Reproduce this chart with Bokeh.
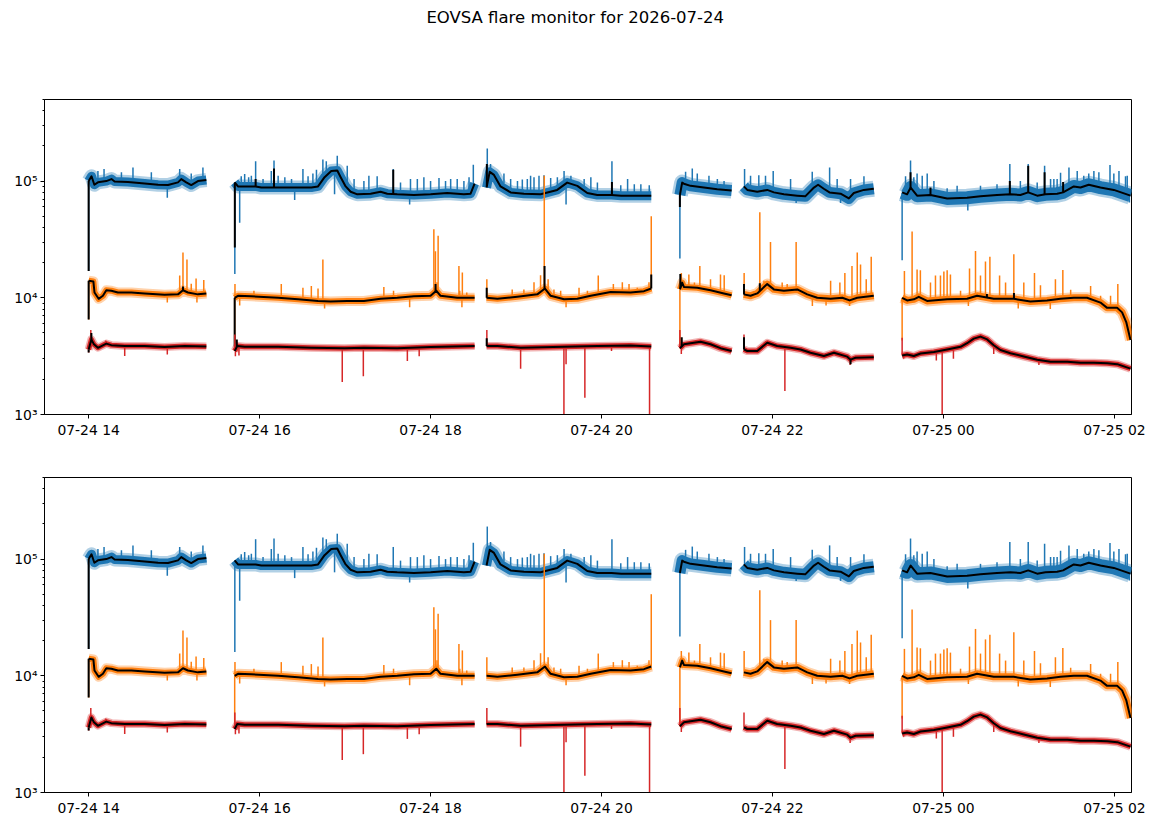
import numpy as np
import pandas as pd
from bokeh.plotting import figure
from bokeh.layouts import column
from bokeh.models import FixedTicker, CustomJSTickFormatter, Range1d, ColumnDataSource
from bokeh.core.properties import value
from bokeh.embed import file_html
from bokeh.resources import INLINE

# ---------------------------------------------------------------- data
TITLE = "EOVSA flare monitor for 2026-07-24"
T0 = "2026-07-24 14:00"          # all times below are minutes after T0

x_tick_times = ["2026-07-24 14:00", "2026-07-24 16:00", "2026-07-24 18:00",
                "2026-07-24 20:00", "2026-07-24 22:00", "2026-07-25 00:00",
                "2026-07-25 02:00"]
x_tick_labels = ["07-24 14", "07-24 16", "07-24 18", "07-24 20",
                 "07-24 22", "07-25 00", "07-25 02"]
y_tick_values = [1e3, 1e4, 1e5]
y_tick_labels = ["10\u00b3", "10\u2074", "10\u2075"]

# ---- blue channel: smoothed level per observing segment
blue_t = [
    [0, 2, 4, 6.5, 12.4, 16, 18.2, 27.6, 39.3, 48.7, 55.7, 62.7, 65, 68.5, 72, 76.7, 82.6],
    [102.5, 104.8, 109.5, 117.2, 121.2, 130.1, 144.6, 156.3, 161, 165.6, 170.3, 174.5, 176.9,
     180.4, 183.9, 188.6, 197.9, 204.9, 209.6, 216.6, 228.3, 240, 251.7, 263.4, 268.1, 270.9],
    [279.3, 281.5, 284.5, 289.1, 296.2, 305.5, 317.2, 328.9, 335.9, 343, 350, 357, 367, 373.8, 385.5, 394.9],
    [415, 416.6, 417.8, 422.5, 431.8, 441.2, 451.3],
    [459.9, 462.3, 469.3, 476.3, 481, 488, 497.4, 503, 509.1, 512, 516, 520, 527.8, 533.6, 537.1, 544.1, 551.1],
    [571, 574.5, 577, 581.5, 590.9, 602.6, 616.6, 626, 637.6, 647, 654, 659.5, 665.8, 671.6, 679.8,
     684, 691.5, 696.2, 702, 710.2, 719.6, 731.3],
]
blue_v = [
    [100000, 110000, 93000, 97500, 100000, 104000, 99000, 98000, 95500, 93000, 92500, 97500, 104000, 97500, 92500, 100000, 102000],
    [97500, 90000, 90000, 90000, 88000, 88000, 88000, 88000, 90000, 108000, 122000, 123000, 108000,
     90000, 81000, 77000, 78000, 81000, 78000, 77000, 76000, 77000, 79000, 77000, 78000, 95000],
    [88000, 120000, 113000, 90000, 80000, 78000, 77000, 84000, 97000, 91000, 79000, 76000, 76000, 75000, 75000, 75000],
    [76000, 97000, 95000, 91000, 88000, 85000, 83000],
    [90000, 84000, 81000, 84000, 80000, 77000, 75000, 74000, 88000, 93000, 86000, 80000, 78000, 71000, 79000, 84000, 86000],
    [80000, 77000, 88000, 75000, 76000, 71000, 72000, 74000, 76000, 77000, 76000, 80000, 75000, 77000, 78000,
     80000, 90000, 88000, 93000, 88000, 84000, 75000],
]
# (minute, value) of the raw spikes of the blue channel
blue_spikes = [
    (0, 17000), (6.5, 122000), (10.8, 127000), (23, 119000), (31.1, 131000), (44, 119000), (55.2, 72000),
    (63.9, 127000), (72, 116000), (80.2, 131000),
    (102.6, 16000), (106, 44000), (107.1, 110000), (109.5, 115000), (112.3, 108000), (114.2, 111000),
    (117.2, 148000), (122.4, 104000), (128.2, 122000), (130.1, 150000), (133, 111000), (137.7, 108000),
    (142.4, 104000), (144.6, 68700), (150.4, 127000), (154, 110000), (157.4, 116000), (159.9, 125000),
    (164.4, 153000), (166.8, 148000), (172.6, 77000), (174.5, 165000), (181.5, 135000), (186.3, 104000),
    (193.2, 100000), (196.7, 111000), (202.5, 110000), (213.8, 127000), (218.9, 97000), (225.3, 63000),
    (225.9, 104000), (230.7, 104000), (235.3, 108000), (240, 100000), (245.9, 106000), (250.5, 100000),
    (254.1, 104000), (258.7, 104000), (263.4, 100000), (267, 108000), (270, 138000),
    (279.8, 190000), (282.1, 140000), (291.5, 116000), (296.2, 104000), (301, 100000), (304.4, 103000),
    (307.9, 104000), (310.2, 111000), (312.6, 108000), (316.1, 111000), (319.6, 112000), (324.3, 106000),
    (329, 108000), (333.7, 122000), (335.1, 63000), (338.5, 111000), (347.8, 104000), (352.5, 108000),
    (357.1, 97000), (367.3, 148000), (373.5, 92000), (378.3, 104000), (383, 94000), (387.6, 94000), (393.5, 92000),
    (415, 21700), (419, 120000), (423.7, 128000), (427.2, 116000), (435.4, 111000), (441.3, 104000), (446, 100000),
    (460.4, 127000), (464.6, 111000), (470.4, 112000), (475.1, 111000), (480.5, 122000), (492.7, 104000),
    (496.6, 65000), (507.9, 120000), (520.1, 131000), (525.4, 104000), (527.8, 65000), (534.8, 104000), (544.2, 110000),
    (571, 21000), (573.4, 110000), (576.9, 150000), (579.2, 108000), (581.5, 116000), (585.1, 111000),
    (588.6, 116000), (593.3, 100000), (602.6, 87000), (609.6, 91000), (617.1, 56000), (626, 91000),
    (637.6, 94000), (646.6, 140000), (654, 100000), (659.5, 140000), (665.8, 97000), (671, 135000),
    (675.2, 104000), (677.5, 104000), (679.8, 104000), (682.2, 118000), (688.1, 131000), (693.9, 122000),
    (698.5, 111000), (702, 116000), (705.6, 122000), (709.1, 119000), (716.9, 137000), (719.6, 116000),
    (723.2, 122000), (727.8, 110000), (729, 111000), (730.5, 65600),
]
blue_black_top = [(0, 17000), (102.6, 27000), (117.2, 104000), (130.1, 128000), (213.8, 125000),
                  (279.5, 140000), (367.3, 98000), (415, 60000), (576.9, 119000), (590.9, 88000),
                  (646.6, 100000), (659.5, 135000), (671, 119000), (684, 98000)]
blue_black_bottom = [(0, 17000)]

# ---- orange channel
orange_t = [
    [0, 3.3, 4.1, 7, 10, 12.4, 15.9, 20.5, 30, 39.3, 53.3, 62.7, 66.2, 69.7, 76.7, 82.6],
    [102.5, 104.8, 114.2, 133, 147, 161, 169.8, 181.5, 193.2, 204.9, 216.6, 228.3, 240, 244, 247, 258.7, 270.9],
    [279.3, 286.9, 300.9, 314.9, 320.3, 324.3, 333.7, 343, 352.4, 366.4, 380.4, 389.8, 394.9],
    [415, 416.6, 417.8, 427.2, 436.5, 445.9, 451.3],
    [459.9, 464.6, 469.3, 476.3, 481, 488, 497.4, 504.4, 511.4, 520.8, 529, 534.1, 539.5, 551.1],
    [571, 574.5, 579.2, 582.7, 588.5, 602.6, 616.6, 623.6, 635.3, 649.3, 661, 672.7, 682.1, 691.5,
     700.8, 710.2, 714.9, 721.9, 725.4, 728.3, 731.3],
]
orange_v = [
    [14000, 13800, 11100, 9800, 10400, 11600, 11500, 11100, 11100, 10900, 10600, 10700, 11600, 11100, 10700, 10900],
    [10000, 10400, 10300, 10000, 9700, 9400, 9300, 9400, 9400, 9800, 10000, 10300, 10400, 11500, 10400, 10000, 10000],
    [10000, 9800, 10200, 10700, 12000, 10400, 9700, 9800, 10400, 11200, 11100, 11400, 12000],
    [11800, 13500, 12400, 12200, 11600, 10900, 10500],
    [10700, 10400, 10900, 13100, 11800, 11500, 11800, 10700, 10000, 9800, 10000, 9500, 10000, 10400],
    [10000, 9500, 9700, 10200, 9400, 9700, 9800, 10400, 9800, 9800, 9300, 9500, 9800, 10000,
     10000, 9100, 8200, 8200, 7500, 6200, 4350],
]
orange_spikes = [
    (0, 6500), (55.2, 9100), (63.9, 15500), (66.2, 24400), (69, 21300), (72, 13200), (75.4, 14600),
    (76, 9100), (80.8, 14200),
    (102.5, 4000), (102.7, 13100), (106, 8600), (116, 11500), (135.2, 13100), (150.4, 12200), (156.3, 12600),
    (161, 12000), (164.4, 21300), (165.6, 8100), (207.2, 12400), (214, 11500), (225.3, 8300), (242.3, 38700),
    (243.4, 25000), (244.5, 13600), (245.3, 34000), (259.9, 18700), (260.5, 11500), (262, 8300),
    (262.3, 16500), (265.4, 11100),
    (279.5, 14400), (297.3, 11800), (305.5, 11800), (312.6, 13600), (317.2, 15600), (319.8, 111000),
    (322.5, 14400), (326.6, 11800), (331.3, 11500), (335.1, 8300), (344.2, 12200), (350.1, 11500),
    (357.7, 15500), (368.3, 13100), (374.6, 13600), (379.3, 13100), (385.1, 12200), (393.3, 13600), (394.9, 50000),
    (415, 3700), (416, 16300), (421.3, 15800), (425.2, 13500), (429, 18700), (436.5, 14400), (443.5, 15800),
    (446.1, 15600),
    (460.1, 16300), (471.1, 54000), (474, 14000), (478.6, 30000), (486.8, 13500), (490.3, 13100),
    (496.6, 30000), (508, 8500), (517.6, 8600), (520.8, 14000), (527.3, 13500), (530.8, 16300), (534.1, 8500),
    (535.8, 18700), (539.5, 24400), (541.8, 19300), (545.8, 14400), (549.3, 22500),
    (571, 4300), (572.6, 17000), (578, 37000), (581.5, 17500), (583.8, 17200), (590.9, 13500), (594.4, 15500),
    (597.9, 15500), (600.3, 16800), (602.6, 17200), (604.9, 15800), (612, 11500), (617.5, 8500),
    (618.3, 17800), (622.5, 25200), (626, 15500), (629.5, 20500), (632.6, 22500), (639.4, 15500),
    (643.6, 13500), (649.4, 23600), (652.5, 8100), (656.4, 13500), (663.9, 16300), (668.1, 12800),
    (675, 8000), (678.6, 14400), (683.8, 17300), (689.3, 11700), (703.3, 12600), (710.3, 10400),
    (717.3, 10400), (722.4, 13100),
]
orange_black_top = [(0, 6500), (66.2, 12500), (102.5, 3800), (243.5, 13100), (279.4, 12200), (320, 18700),
                    (394.9, 15800), (415.3, 16000), (460, 13100), (471.1, 13300), (630.5, 10800), (649.5, 11000)]
orange_black_bottom = [(0, 6500)]

# ---- red channel
red_t = [
    [0, 1.9, 3.7, 6.5, 12.4, 15.9, 25.3, 39.3, 53.3, 67.4, 82.6],
    [102.5, 104.3, 109.5, 133, 156.3, 179.7, 193.2, 216.6, 240, 270.9],
    [279.3, 281, 286.9, 303.3, 333.7, 357.1, 380.4, 394.9],
    [415, 417.8, 429.5, 436.5, 443.5, 451.3],
    [459.9, 462.3, 469.3, 476.3, 483.3, 492.7, 499.7, 506.7, 516.1, 523.1, 532.5, 534.8, 538.3, 551.1],
    [571, 574.5, 579.2, 583.9, 593.3, 602.6, 612, 616.6, 621.3, 626, 630.7, 635.3, 640, 647, 656.4,
     665.8, 675.2, 686.9, 696.2, 705.6, 715, 722, 731.3],
]
red_v = [
    [3600, 4400, 3990, 3730, 4050, 3930, 3860, 3860, 3780, 3860, 3820],
    [3500, 3860, 3800, 3800, 3730, 3700, 3730, 3700, 3780, 3860],
    [3860, 3860, 3860, 3730, 3800, 3860, 3900, 3820],
    [3700, 3990, 4200, 4000, 3700, 3500],
    [3610, 3500, 3500, 4120, 3860, 3730, 3610, 3380, 3170, 3380, 3130, 2950, 3060, 3100],
    [3200, 3270, 3170, 3330, 3430, 3610, 3800, 4080, 4470, 4650, 4400, 3920, 3570, 3350, 3140,
     2950, 2830, 2830, 2780, 2780, 2750, 2700, 2470],
]
red_spikes = [
    (0, 3400), (1.5, 5300), (12, 4300), (25.3, 3170), (55.2, 3270),
    (102.6, 4850), (103, 3150), (105.5, 3200), (178, 1900), (192.8, 2130), (223.7, 2880), (232, 3150),
    (279.5, 5300), (303.2, 2470), (333.6, 500), (335.1, 2700), (348.3, 1390), (367, 3500), (393.7, 500),
    (415, 5300), (416, 3300),
    (460, 4850), (488.7, 1590), (534.5, 2650),
    (571, 4550), (572, 3000), (595, 2900), (599.1, 500), (607, 3000), (635.3, 3300), (667, 2650),
]
red_black_top = [(0, 3400), (1.9, 5000), (104, 4400), (279.4, 4500), (416.3, 4600), (460, 4600), (534.8, 2700)]
red_black_bottom = [(0, 3400)]

# ---------------------------------------------------------------- drawing
t0_ms = pd.Timestamp(T0).value / 1e6
x_tick_ms = [pd.Timestamp(s).value / 1e6 for s in x_tick_times]
FONT = "DejaVu Sans"
PAGE_W = 1148


def to_ms(minutes):
    return t0_ms + np.asarray(minutes, dtype=float) * 60000.0


SERIES = [
    dict(color="#1f77b4", t=blue_t, v=blue_v, spikes=blue_spikes, fringe=5,
         top=blue_black_top, bottom=blue_black_bottom, widths=[9, 9, 9, 11, 11, 13]),
    dict(color="#ff7f0e", t=orange_t, v=orange_v, spikes=orange_spikes, fringe=4,
         top=orange_black_top, bottom=orange_black_bottom, widths=[6, 6, 6, 6, 7, 7]),
    dict(color="#d62728", t=red_t, v=red_v, spikes=red_spikes, fringe=3,
         top=red_black_top, bottom=red_black_bottom, widths=[5, 5, 5, 5, 5, 5]),
]


def spike_segments(p, s, pairs, color, width):
    all_t = np.concatenate([np.asarray(seg, float) for seg in s["t"]])
    all_lv = np.log10(np.concatenate([np.asarray(seg, float) for seg in s["v"]]))
    st = np.array([a for a, _ in pairs], float)
    sv = np.array([b for _, b in pairs], float)
    foot = 10 ** np.interp(st, all_t, all_lv)   # foot of each spike on the level line
    p.segment(x0=to_ms(st), y0=foot, x1=to_ms(st), y1=sv, line_color=color, line_width=width)


def make_panel(which, height, b_top, b_bottom):
    p = figure(width=PAGE_W, height=height, x_axis_type="datetime", y_axis_type="log",
               x_range=Range1d(float(to_ms(-31)), float(to_ms(732))), y_range=Range1d(1e3, 5e5),
               output_backend="svg", toolbar_location=None, title=None,
               min_border_left=44, min_border_right=17, min_border_top=b_top, min_border_bottom=b_bottom)
    p.xgrid.visible = False
    p.ygrid.visible = False
    p.outline_line_color = "black"
    p.outline_line_width = 1
    p.outline_line_alpha = 1
    p.background_fill_color = "white"
    p.border_fill_color = "white"

    for ax in (p.xaxis[0], p.yaxis[0]):
        ax.axis_line_color = "black"
        ax.major_tick_line_color = "black"
        ax.minor_tick_line_color = "black"
        ax.major_tick_out = 4
        ax.major_tick_in = 0
        ax.minor_tick_out = 2
        ax.minor_tick_in = 0
        ax.major_label_text_font = FONT
        ax.major_label_text_font_size = "13.9px"
        ax.major_label_text_color = "black"
        ax.major_label_standoff = 3

    p.xaxis.ticker = FixedTicker(ticks=x_tick_ms)
    p.xaxis.minor_tick_line_color = None
    p.xaxis.formatter = CustomJSTickFormatter(
        args=dict(tick_ms=x_tick_ms, tick_lbl=x_tick_labels),
        code="""let b = 0;
for (let i = 0; i < tick_ms.length; i++) { if (Math.abs(tick_ms[i] - tick) < Math.abs(tick_ms[b] - tick)) b = i; }
return tick_lbl[b];""")

    minor = [m * 10 ** e for e in (3, 4, 5) for m in range(2, 10) if m * 10 ** e <= 5e5]
    p.yaxis.ticker = FixedTicker(ticks=y_tick_values, minor_ticks=minor)
    p.yaxis.formatter = CustomJSTickFormatter(
        args=dict(yv=y_tick_values, yl=y_tick_labels),
        code="""let b = 0;
const lt = Math.log10(tick);
for (let i = 0; i < yv.length; i++) { if (Math.abs(Math.log10(yv[i]) - lt) < Math.abs(Math.log10(yv[b]) - lt)) b = i; }
return yl[b];""")

    for s in SERIES:
        xs = [to_ms(seg).tolist() for seg in s["t"]]
        ys = [list(map(float, seg)) for seg in s["v"]]
        fringe = ColumnDataSource(dict(xs=xs, ys=ys, w=[w + s["fringe"] for w in s["widths"]]))
        p.multi_line(xs="xs", ys="ys", line_width="w", line_color=s["color"], line_alpha=0.35,
                     line_join="round", source=fringe)
        core = ColumnDataSource(dict(xs=xs, ys=ys, w=s["widths"]))
        p.multi_line(xs="xs", ys="ys", line_width="w", line_color=s["color"], line_join="round", source=core)
        spike_segments(p, s, s["spikes"], s["color"], 1.5)
        p.multi_line(xs, ys, line_color="black", line_width=2, line_join="round")
        spike_segments(p, s, s[which], "black", 2)
    return p


# title strip (figure-wide suptitle)
TITLE_H = 34
head = figure(width=PAGE_W, height=TITLE_H, x_range=Range1d(0, PAGE_W), y_range=Range1d(0, TITLE_H),
              output_backend="svg", toolbar_location=None, title=None,
              x_axis_location=None, y_axis_location=None,
              min_border=0, min_border_left=0, min_border_right=0, min_border_top=0, min_border_bottom=0)
head.outline_line_color = None
head.xgrid.visible = False
head.ygrid.visible = False
head.text(x=[PAGE_W / 2 - 13.5], y=[TITLE_H / 2], text=[TITLE], text_align="center", text_baseline="middle",
          text_font=value(FONT), text_font_size="16.5px", text_color="black")

top = make_panel("top", 454 - TITLE_H, 99 - TITLE_H, 40)
bottom = make_panel("bottom", 364, 23, 26)

layout = column(head, top, bottom)
with open("out.html", "w") as f:
    f.write(file_html(layout, INLINE, title=TITLE))
